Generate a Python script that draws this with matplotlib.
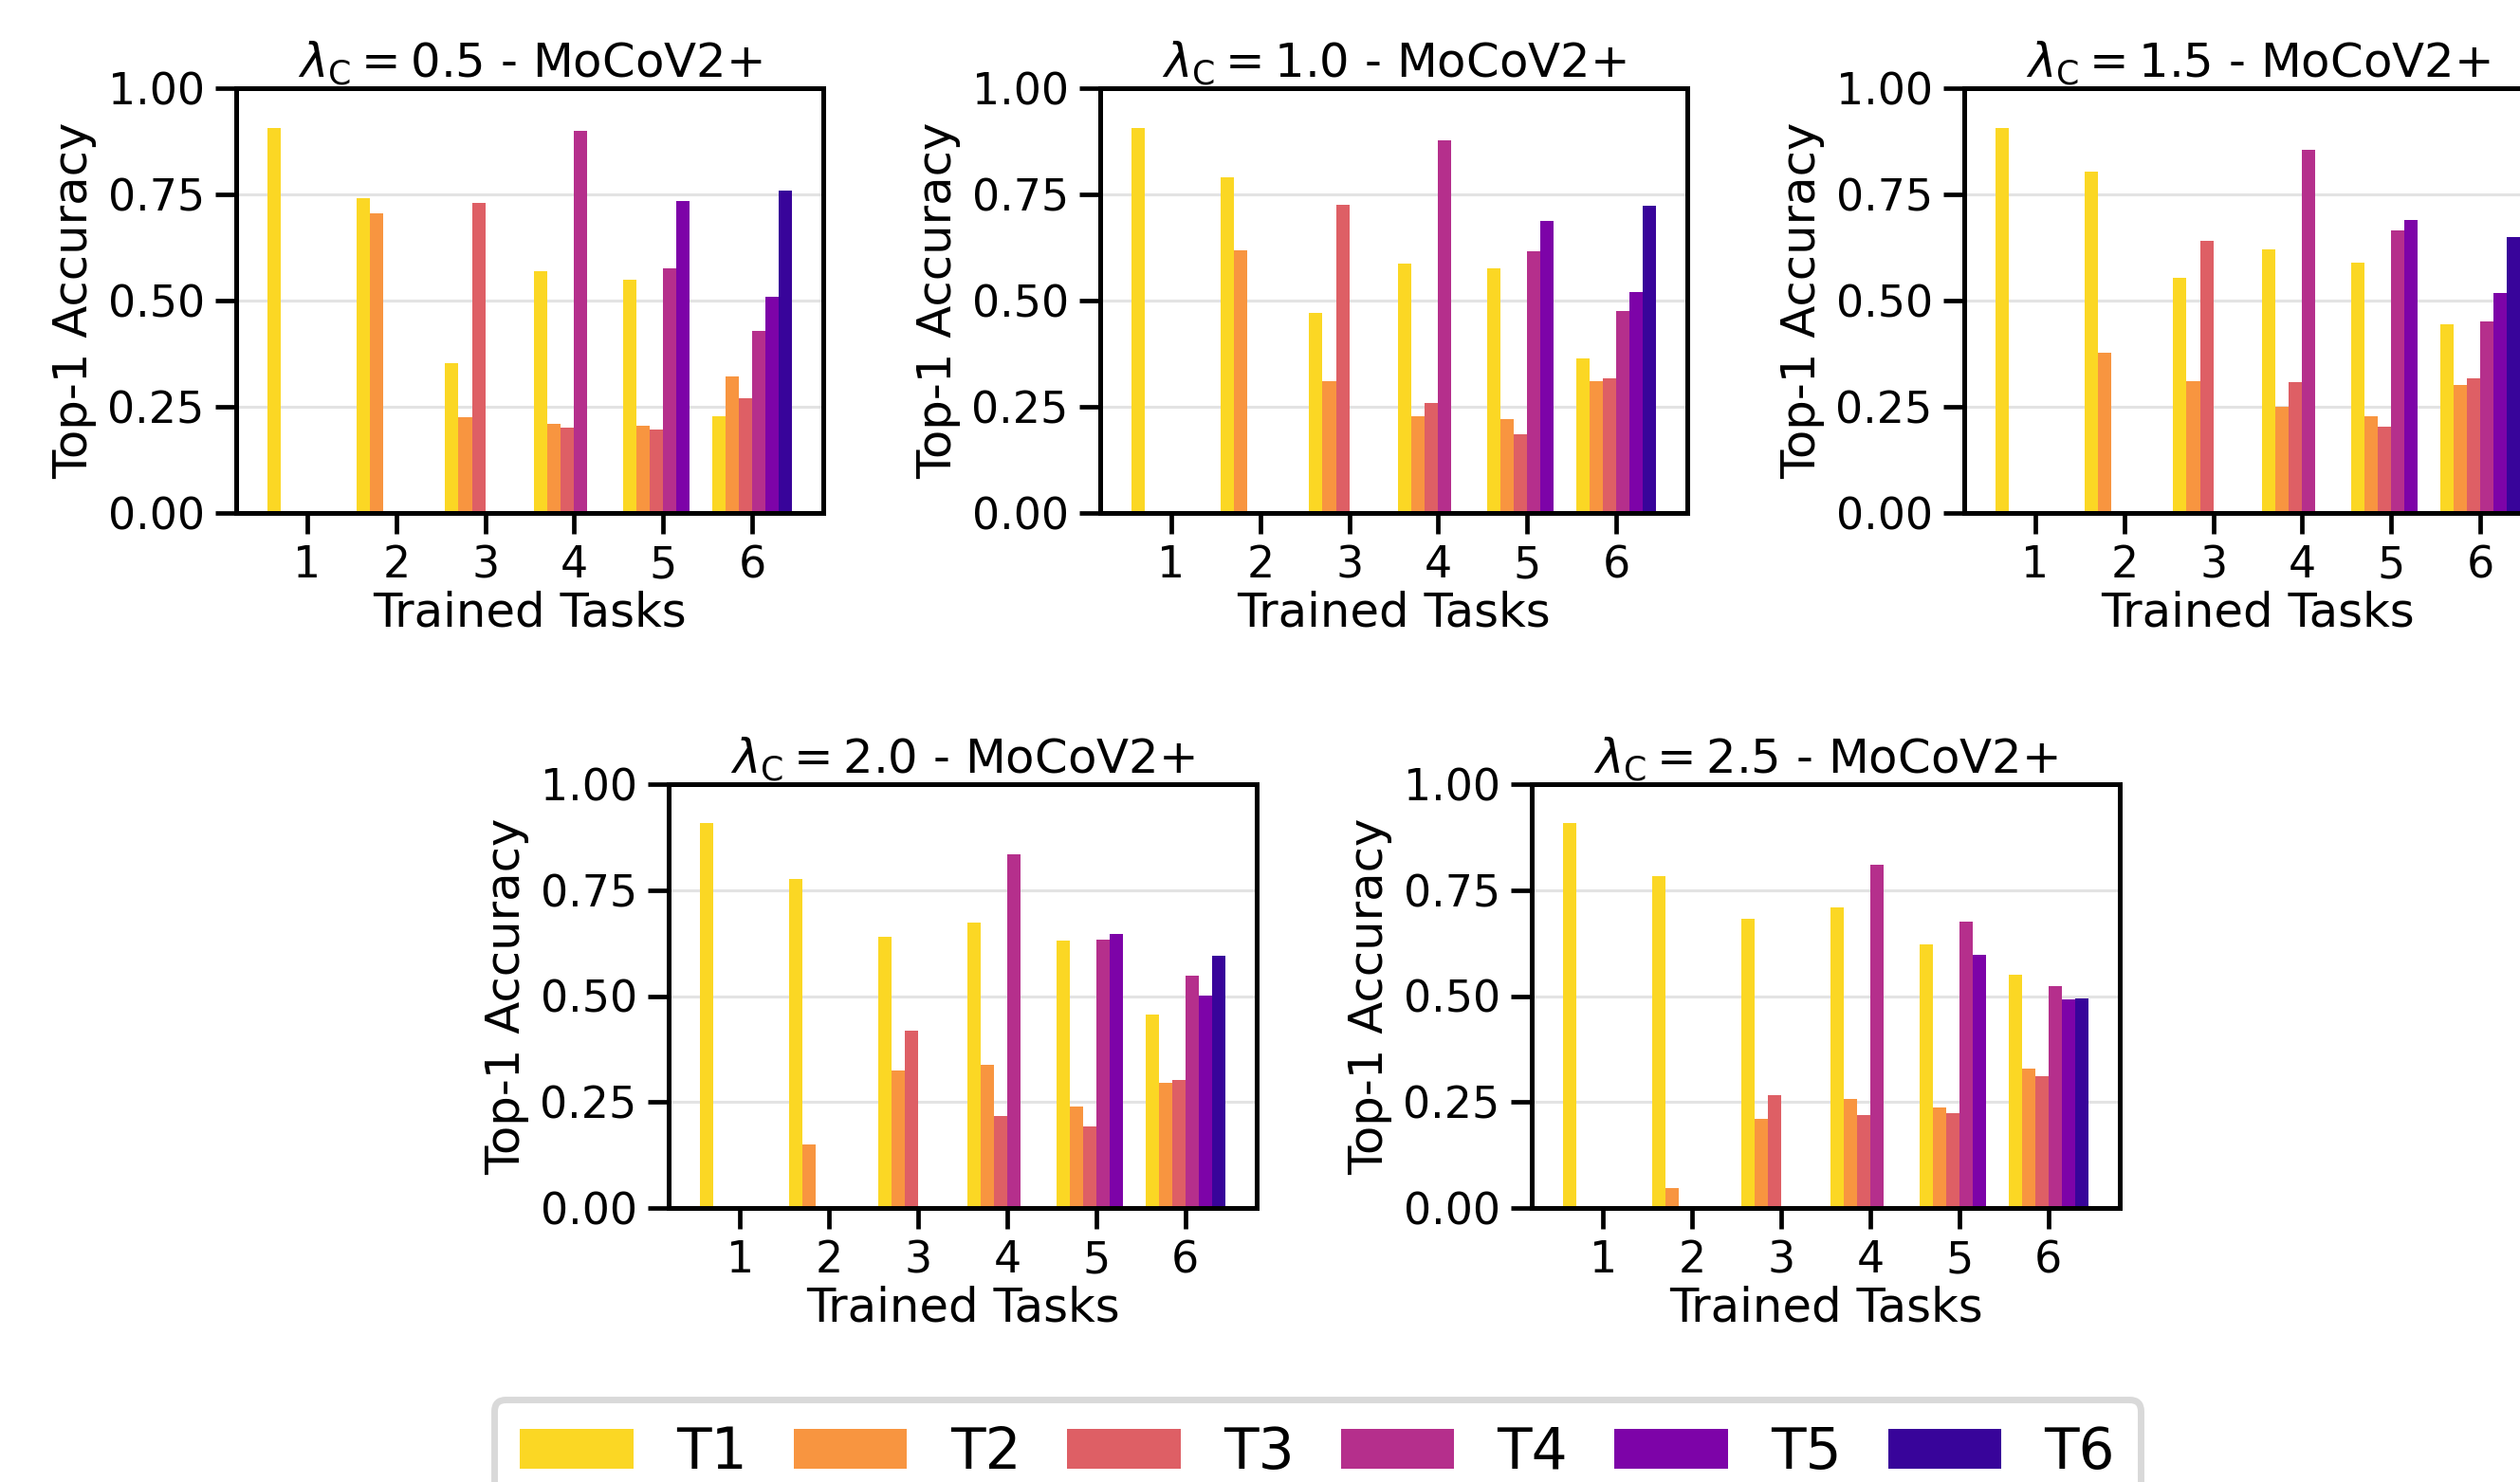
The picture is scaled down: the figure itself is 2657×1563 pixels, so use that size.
import numpy as np
import matplotlib
matplotlib.use("Agg")
import matplotlib.pyplot as plt
from matplotlib.patches import Patch

# accuracy per trained task (row) for each seen task T1..Tk (column)
lambdas = ["0.5", "1.0", "1.5", "2.0", "2.5"]
tasks = [1, 2, 3, 4, 5, 6]
task_names = ["T1", "T2", "T3", "T4", "T5", "T6"]

acc_05 = [
    [0.907],
    [0.742, 0.706],
    [0.353, 0.226, 0.731],
    [0.570, 0.210, 0.201, 0.900],
    [0.550, 0.206, 0.197, 0.576, 0.735],
    [0.228, 0.322, 0.271, 0.429, 0.509, 0.760],
]
acc_10 = [
    [0.907],
    [0.791, 0.619],
    [0.471, 0.311, 0.726],
    [0.588, 0.228, 0.259, 0.878],
    [0.576, 0.222, 0.186, 0.615, 0.688],
    [0.364, 0.311, 0.318, 0.476, 0.521, 0.724],
]
acc_15 = [
    [0.907],
    [0.804, 0.378],
    [0.554, 0.311, 0.641],
    [0.621, 0.251, 0.309, 0.856],
    [0.590, 0.228, 0.203, 0.666, 0.690],
    [0.444, 0.302, 0.318, 0.451, 0.518, 0.650],
]
acc_20 = [
    [0.908],
    [0.776, 0.150],
    [0.640, 0.325, 0.419],
    [0.673, 0.338, 0.217, 0.834],
    [0.631, 0.239, 0.193, 0.633, 0.646],
    [0.456, 0.296, 0.302, 0.548, 0.501, 0.595],
]
acc_25 = [
    [0.908],
    [0.783, 0.046],
    [0.682, 0.210, 0.266],
    [0.709, 0.258, 0.220, 0.809],
    [0.622, 0.237, 0.224, 0.675, 0.597],
    [0.550, 0.329, 0.311, 0.523, 0.492, 0.494],
]
all_acc = [acc_05, acc_10, acc_15, acc_20, acc_25]

colors = plt.cm.plasma(np.linspace(0.92, 0.08, 6))
width = 0.15

W, H = 2657, 1563
fig = plt.figure(figsize=(W / 200, H / 200), dpi=200)

# axes boxes in pixels: left, top, right, bottom
boxes = [
    (249, 93, 868, 541),
    (1160, 93, 1779, 541),
    (2071, 93, 2690, 541),
    (705, 827, 1325, 1274),
    (1615, 827, 2235, 1274),
]

for lam, acc, (l, t, r, b) in zip(lambdas, all_acc, boxes):
    ax = fig.add_axes([l / W, 1 - b / H, (r - l) / W, (b - t) / H])
    ax.set_axisbelow(True)
    ax.yaxis.grid(True, color="#e3e3e3", linewidth=1.1)
    for j in range(6):
        xs = [tasks[i] + (j - 2.5) * width for i in range(j, 6)]
        ys = [acc[i][j] for i in range(j, 6)]
        ax.bar(xs, ys, width=width, color=colors[j], linewidth=0)
    ax.set_xlim(0.2, 6.8)
    ax.set_ylim(0, 1.0)
    ax.set_xticks(tasks)
    ax.set_yticks([0, 0.25, 0.5, 0.75, 1.0])
    ax.set_yticklabels(["0.00", "0.25", "0.50", "0.75", "1.00"])
    ax.tick_params(axis="both", labelsize=16.5, length=8, width=1.7, pad=4)
    for s in ax.spines.values():
        s.set_linewidth(1.8)
    ax.set_xlabel("Trained Tasks", fontsize=17.9, labelpad=1)
    ax.set_ylabel("Top-1 Accuracy", fontsize=17.9, labelpad=4)
    ax.set_title(r"$\lambda_{\mathrm{C}} = %s$ - MoCoV2+" % lam, fontsize=17.9, pad=4)

handles = [Patch(facecolor=c, edgecolor="none") for c in colors]
leg = fig.legend(handles, task_names, loc="upper center", ncol=6,
                 bbox_to_anchor=(0.5228, 1 - 1476 / H), borderaxespad=0,
                 fontsize=21.5, handlelength=2.0, handleheight=0.72,
                 handletextpad=0.76, columnspacing=0.82, borderpad=0.45,
                 fancybox=True, framealpha=1)
leg.get_frame().set_edgecolor("#d9d9d9")
leg.get_frame().set_linewidth(2.5)

fig.savefig("out.png", dpi=200)
